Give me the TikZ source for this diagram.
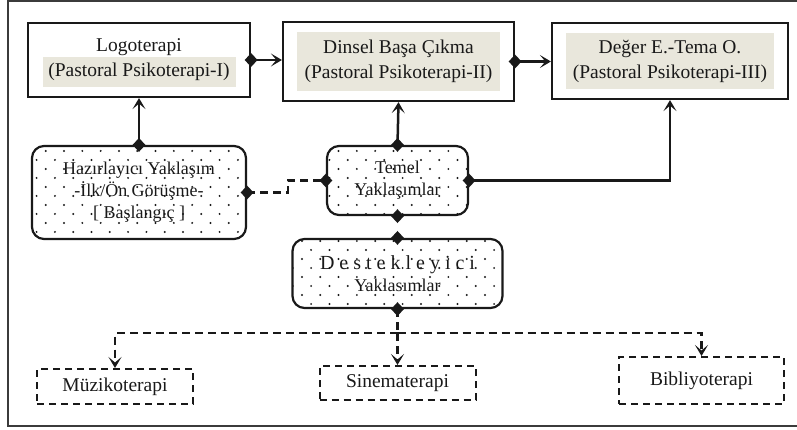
\documentclass[tikz,border=0pt]{standalone}
\usepackage{fontspec}
\setmainfont{Liberation Serif}
\usetikzlibrary{arrows.meta,shapes.geometric,patterns}

\pgfdeclarepatternformonly{sdots}{\pgfqpoint{-2pt}{-2pt}}{\pgfqpoint{12pt}{12pt}}{\pgfqpoint{18.3pt}{18pt}}{%
 \pgfpathcircle{\pgfqpoint{0pt}{0pt}}{1.1pt}%
 \pgfpathcircle{\pgfqpoint{9.15pt}{9pt}}{1.1pt}%
 \pgfusepath{fill}}

\definecolor{hl}{RGB}{233,231,220}
\definecolor{ink}{RGB}{25,25,25}

\begin{document}
\begin{tikzpicture}[x=1pt,y=-1pt,
 mainbox/.style={draw=ink, line width=2.2pt, inner sep=0pt, align=center, text=ink, font=\fontsize{19.5}{25}\selectfont},
 dotbox/.style={draw=ink, line width=2.2pt, rounded corners=12pt, pattern=sdots, pattern color=ink, inner sep=0pt, align=center, text=ink, font=\fontsize{18}{22}\selectfont},
 dashbox/.style={draw=ink, line width=2pt, dash pattern=on 7pt off 5pt, inner sep=0pt, text=ink, font=\fontsize{19.5}{25}\selectfont},
 dmd/.style={diamond, fill=ink, draw=none, inner sep=0pt, minimum width=13pt, minimum height=14pt},
 conn/.style={draw=ink, line width=2.5pt},
 arr/.style={-{Stealth[length=11pt,width=13pt,inset=5.5pt]}},
 dconn/.style={dash pattern=on 8pt off 5pt}
]
\useasboundingbox (0,0) rectangle (797,430);
\draw[line width=2pt, ink!85] (8,1.5) rectangle (805,426);

% highlights
\fill[hl] (43,57) rectangle (236,87);
\fill[hl] (297,32) rectangle (500,91);
\fill[hl] (566,33) rectangle (774,89);

% top boxes
\node[mainbox, minimum width=222pt, minimum height=74pt] (b1) at (139,60) {Logoterapi\\(Pastoral Psikoterapi-I)};
\node[mainbox, minimum width=231pt, minimum height=79pt] (b2) at (398.5,61.5) {Dinsel Başa Çıkma\\(Pastoral Psikoterapi-II)};
\node[mainbox, minimum width=236pt, minimum height=76pt] (b3) at (670,61) {Değer E.-Tema O.\\(Pastoral Psikoterapi-III)};

% dotted boxes
\node[dotbox, minimum width=214pt, minimum height=93pt] (haz) at (139,192.5) {Hazırlayıcı Yaklaşım\\-İlk/Ön Görüşme-\\{[} Başlangıç ]};
\node[dotbox, minimum width=141pt, minimum height=69pt] (tem) at (397.5,180.5) {Temel\\Yaklaşımlar};
\node[dotbox, minimum width=210pt, minimum height=69pt] (des) at (397.5,273.5) {{\fontsize{20}{22}\selectfont D e s t e k l e y i c i}\\Yaklasımlar};

% dashed boxes
\node[dashbox, minimum width=156pt, minimum height=35pt] (muz) at (115,386.5) {Müzikoterapi};
\node[dashbox, minimum width=156pt, minimum height=34pt] (sin) at (397.5,383) {Sinematerapi};
\node[dashbox, minimum width=165pt, minimum height=47pt] (bib) at (701.5,380.5) {Bibliyoterapi};

% connectors
\draw[conn,arr] (b1.east) -- (b1.east -| b2.west);
\draw[conn,arr] (b2.east) -- (b2.east -| b3.west);
\draw[conn,arr] (haz.north) -- (b1.south);
\draw[conn,arr] (tem.north) -- (b2.south);
\draw[conn,arr] (tem.east) -| (b3.south);
\draw[conn,dconn] (haz.east) -- ++(41,0) |- (tem.west);
\coordinate (j) at (397.5,333);
\draw[conn,dconn] (des.south) -- (j);
\draw[conn,dconn,arr] (j) -- (sin.north);
\draw[conn,dconn,arr] (j) -| (muz.north);
\draw[conn,dconn,arr] (j) -| (bib.north);

% diamonds
\node[dmd] (d1) at (b1.east) {};
\node[dmd] (d2) at (b2.east) {};
\node[dmd] (d3) at (haz.north) {};
\node[dmd] (d4) at (haz.east) {};
\node[dmd] (d5) at (tem.north) {};
\node[dmd] (d6) at (tem.west) {};
\node[dmd] (d7) at (tem.east) {};
\node[dmd] (d8) at (tem.south) {};
\node[dmd] (d9) at (des.north) {};
\node[dmd] (d10) at (des.south) {};
\end{tikzpicture}
\end{document}
